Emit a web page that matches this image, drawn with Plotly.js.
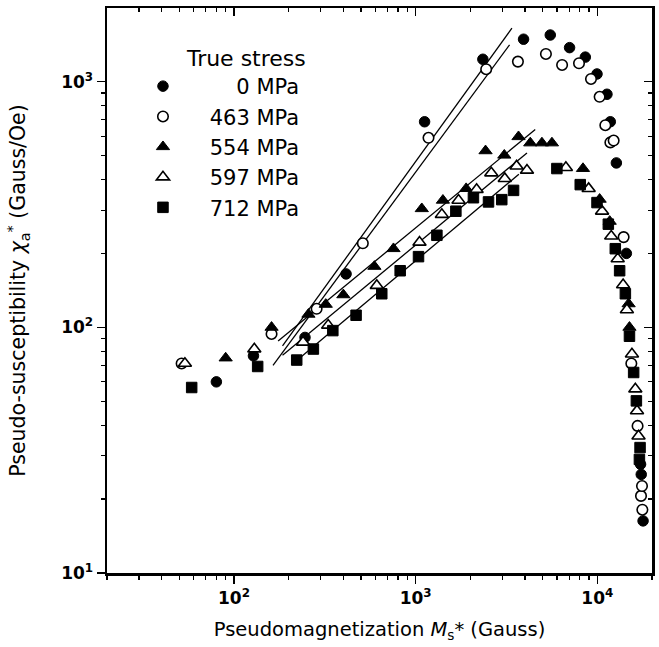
<!DOCTYPE html>
<html>
<head>
<meta charset="utf-8">
<script src="https://cdn.plot.ly/plotly-3.0.1.min.js"></script>
<style>html,body{margin:0;padding:0;background:#fff;}#chart{width:659px;height:647px;}</style>
</head>
<body>
<div id="chart"></div>
<script>
// ---- data (log-log) ----
var s0_x   = [80, 128, 246, 414, 1120, 2344, 3926, 5508, 7035, 8590, 9960, 11300, 11790, 12730, 14450, 17300, 17450, 17860];
var s0_y   = [60, 76.6, 91, 165, 687, 1234, 1489, 1549, 1376, 1259, 1075, 889, 687, 467, 200, 27.7, 25.2, 16.3];

var s463_x = [51.5, 161, 285, 512, 1177, 2445, 3656, 5213, 6400, 7930, 9230, 10300, 11070, 11800, 12300, 13960, 15390, 16660, 17400, 17620, 17700];
var s463_y = [71.3, 94, 119, 220, 591, 1124, 1207, 1297, 1170, 1189, 1026, 868, 665, 566, 576, 233, 71.3, 39.7, 20.6, 22.6, 18.1];

var s554_x = [90, 161, 257, 320, 400, 593, 755, 1081, 1413, 1897, 2425, 3076, 3683, 4275, 4955, 5626, 8340, 10300, 11700, 14870, 15030];
var s554_y = [75, 100, 113, 124, 135.6, 177, 209, 304, 329, 367, 523, 502, 597, 563, 563, 563, 443, 332, 270, 124.6, 100];

var s597_x = [53.7, 129.4, 240, 330, 611, 1050, 1394, 1722, 2166, 2609, 3094, 3594, 4100, 6715, 8960, 10620, 11930, 12950, 13870, 14550, 15510, 16190, 16540, 16860];
var s597_y = [71.3, 81.6, 87, 102, 148, 222, 288, 329, 364, 425, 403, 453, 436, 447, 367, 297, 235, 190, 149, 117.8, 77.8, 56.1, 45.7, 36.1];

var s712_x = [58.5, 135, 221.5, 273.5, 350, 470, 651, 822, 1037, 1309, 1665, 2080, 2518, 2979, 3459, 5990, 8054, 9960, 11500, 12560, 13270, 14270, 15030, 15850, 16410, 17050, 17190];
var s712_y = [56.9, 69.3, 73.6, 81.6, 97, 112, 137, 170, 194, 237, 297, 337, 324, 331, 361, 443, 381, 322, 263, 209, 170, 137, 92, 65.5, 50.2, 29, 32.4];

// fitted straight lines (end points)
var fit0_x   = [185, 3388];  var fit0_y   = [84, 1652];
var fit463_x = [164, 3289];  var fit463_y = [70, 1413];
var fit554_x = [175, 4553];  var fit554_y = [88, 639];
var fit597_x = [185, 4100];  var fit597_y = [77, 513];
var fit712_x = [215, 3700];  var fit712_y = [72, 420];

var seriesNames = ['0 MPa', '463 MPa', '554 MPa', '597 MPa', '712 MPa'];
var xTickVals = [100, 1000, 10000];
var xTickText = ['10<sup>2</sup>', '10<sup>3</sup>', '10<sup>4</sup>'];
var yTickVals = [10, 100, 1000];
var yTickText = ['10<sup>1</sup>', '10<sup>2</sup>', '10<sup>3</sup>'];

// ---- build ----
var FONT = 'DejaVu Sans, Arial, sans-serif';
function minorTicks(lo, hi) {
  var out = [];
  for (var d = 1; d <= 100000; d *= 10) {
    for (var k = 2; k <= 9; k++) { var v = k * d; if (v >= lo && v <= hi) out.push(v); }
  }
  return out;
}
function pad(n) { return '\u00a0'.repeat(n); }
var legendText = [pad(8) + seriesNames[0], pad(4) + seriesNames[1], pad(4) + seriesNames[2], pad(4) + seriesNames[3], pad(4) + seriesNames[4]];

var lineStyle = {color: '#000', width: 1.3};
var fits = [[fit0_x, fit0_y], [fit463_x, fit463_y], [fit554_x, fit554_y], [fit597_x, fit597_y], [fit712_x, fit712_y]];
var traces = [];
fits.forEach(function (f) {
  traces.push({x: f[0], y: f[1], mode: 'lines', line: lineStyle, showlegend: false, hoverinfo: 'skip'});
});
var pts = [[s0_x, s0_y], [s463_x, s463_y], [s554_x, s554_y], [s597_x, s597_y], [s712_x, s712_y]];
var markers = [
  {symbol: 'circle', size: 10.5, color: '#000', line: {color: '#000', width: 1}},
  {symbol: 'circle', size: 10.5, color: '#fff', line: {color: '#000', width: 1.6}},
  {symbol: 'triangle-up', size: 11.5, color: '#000', line: {color: '#000', width: 1}},
  {symbol: 'triangle-up', size: 11.5, color: '#fff', line: {color: '#000', width: 1.6}},
  {symbol: 'square', size: 10.5, color: '#000', line: {color: '#000', width: 1}}
];
pts.forEach(function (p, i) {
  traces.push({x: p[0], y: p[1], mode: 'markers', name: legendText[i], marker: markers[i],
               legendgroup: 'g' + i, showlegend: true});
});
// helper trace so the mirrored (inside-tick) top/right axes are drawn
traces.push({x: [100], y: [100], xaxis: 'x2', yaxis: 'y2', mode: 'markers', marker: {opacity: 0},
             showlegend: false, hoverinfo: 'skip'});

var xr = [Math.log10(20), Math.log10(20000)];
var yr = [1, 3.3];
var xMinor = minorTicks(20, 20000);
var yMinor = minorTicks(10, 2000);

var layout = {
  width: 659, height: 647,
  margin: {l: 107, r: 7, t: 8, b: 74},
  paper_bgcolor: '#fff', plot_bgcolor: '#fff',
  font: {family: FONT, color: '#000'},
  showlegend: true,
  legend: {
    x: 0.066, y: 0.948, xanchor: 'left', yanchor: 'top',
    bgcolor: 'rgba(0,0,0,0)', borderwidth: 0,
    font: {family: FONT, size: 21, color: '#000'},
    title: {text: pad(6) + 'True stress', side: 'top', font: {family: FONT, size: 22, color: '#000'}},
    traceorder: 'normal', tracegroupgap: 0
  },
  xaxis: {
    type: 'log', range: xr, showgrid: false, zeroline: false,
    showline: true, linecolor: '#000', linewidth: 2.5,
    ticks: 'outside', ticklen: 8, tickwidth: 1.5, tickcolor: '#000',
    tickmode: 'array', tickvals: xTickVals, ticktext: xTickText,
    tickfont: {family: FONT, size: 17, color: '#000', weight: 'bold'},
    minor: {tickmode: 'array', tickvals: xMinor, ticks: 'outside', ticklen: 4, tickwidth: 1.2, tickcolor: '#000', showgrid: false},
    title: {text: 'Pseudomagnetization <i>M</i><sub>s</sub>* (Gauss)', font: {family: FONT, size: 19.5, color: '#000'}, standoff: 16},
    automargin: false
  },
  yaxis: {
    type: 'log', range: yr, showgrid: false, zeroline: false,
    showline: true, linecolor: '#000', linewidth: 2.5,
    ticks: 'outside', ticklen: 8, tickwidth: 1.5, tickcolor: '#000',
    tickmode: 'array', tickvals: yTickVals, ticktext: yTickText,
    tickfont: {family: FONT, size: 17, color: '#000', weight: 'bold'},
    minor: {tickmode: 'array', tickvals: yMinor, ticks: 'outside', ticklen: 4, tickwidth: 1.2, tickcolor: '#000', showgrid: false},
    title: {text: 'Pseudo-susceptibility <i>\u03c7</i><sub>a</sub><sup>*</sup> (Gauss/Oe)' + pad(11), font: {family: FONT, size: 20.5, color: '#000'}, standoff: 30},
    automargin: false
  },
  xaxis2: {
    type: 'log', range: xr, overlaying: 'x', side: 'top', anchor: 'y2',
    showgrid: false, zeroline: false, showline: true, linecolor: '#000', linewidth: 2.5,
    ticks: 'inside', ticklen: 8, tickwidth: 1.5, tickcolor: '#000',
    tickmode: 'array', tickvals: xTickVals, showticklabels: false,
    minor: {tickmode: 'array', tickvals: xMinor, ticks: 'inside', ticklen: 4, tickwidth: 1.2, tickcolor: '#000', showgrid: false}
  },
  yaxis2: {
    type: 'log', range: yr, overlaying: 'y', side: 'right', anchor: 'x2',
    showgrid: false, zeroline: false, showline: true, linecolor: '#000', linewidth: 2.5,
    ticks: 'inside', ticklen: 8, tickwidth: 1.5, tickcolor: '#000',
    tickmode: 'array', tickvals: yTickVals, showticklabels: false,
    minor: {tickmode: 'array', tickvals: yMinor, ticks: 'inside', ticklen: 4, tickwidth: 1.2, tickcolor: '#000', showgrid: false}
  }
};

Plotly.newPlot('chart', traces, layout, {staticPlot: true, displayModeBar: false});
</script>
</body>
</html>
